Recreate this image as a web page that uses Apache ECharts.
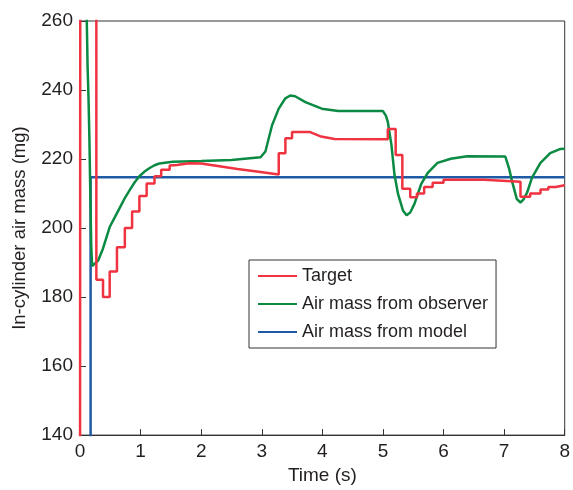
<!DOCTYPE html>
<html>
<head>
<meta charset="utf-8">
<script src="https://cdn.jsdelivr.net/npm/echarts@6/dist/echarts.min.js"></script>
<style>
  html, body { margin: 0; padding: 0; background: #fff; }
  #chart { width: 573px; height: 490px; }
</style>
</head>
<body>
<div id="chart"></div>
<script>
// target (stepped)
const targetT = [0, 0.005, 0.27, 0.27, 0.38, 0.38, 0.49, 0.49, 0.61, 0.61, 0.74, 0.74, 0.86, 0.86, 0.98, 0.98, 1.10, 1.10, 1.23, 1.23, 1.34, 1.34, 1.48, 1.48, 1.6, 1.8, 2.0, 2.3, 2.6, 2.95, 3.28, 3.28, 3.39, 3.39, 3.50, 3.50, 3.8, 3.98, 4.2, 5.08, 5.08, 5.21, 5.21, 5.32, 5.32, 5.45, 5.45, 5.56, 5.56, 5.68, 5.68, 5.82, 5.82, 6.0, 6.0, 6.67, 7.27, 7.27, 7.43, 7.43, 7.6, 7.6, 7.73, 7.73, 7.85, 7.85, 8];
const targetV = [100, 300, 300, 185, 185, 180, 180, 187.4, 187.4, 194.4, 194.4, 200, 200, 204.8, 204.8, 209.3, 209.3, 212.9, 212.9, 215, 215, 216.9, 216.9, 218.1, 218.3, 218.8, 218.7, 217.9, 217.1, 216.3, 215.5, 221.7, 221.7, 226, 226, 227.8, 227.8, 226.5, 225.8, 225.7, 228.7, 228.7, 221.2, 221.2, 211.4, 211.4, 208.9, 208.9, 210, 210, 211.9, 211.9, 213.1, 213.1, 214, 214, 213.4, 209.1, 209.1, 210, 210, 211.2, 211.2, 211.9, 211.9, 212.4, 212.4];

// air mass from observer
const observerT = [0.1, 0.11, 0.125, 0.14, 0.155, 0.17, 0.185, 0.2, 0.3, 0.38, 0.49, 0.58, 0.66, 0.74, 0.82, 0.9, 0.98, 1.06, 1.15, 1.23, 1.31, 1.53, 2.0, 2.5, 2.98, 3.06, 3.17, 3.28, 3.39, 3.47, 3.55, 3.72, 3.99, 4.26, 5.0, 5.05, 5.08, 5.14, 5.19, 5.25, 5.33, 5.39, 5.45, 5.52, 5.63, 5.74, 5.9, 6.12, 6.39, 7.02, 7.08, 7.13, 7.21, 7.27, 7.32, 7.38, 7.46, 7.6, 7.76, 7.92, 8];
const observerV = [300, 262, 247, 238, 226, 210, 195, 189, 190.6, 194.1, 200.3, 203.3, 206, 208.7, 211, 213.2, 215, 216.3, 217.4, 218.2, 218.7, 219.2, 219.4, 219.7, 220.5, 222.2, 229.8, 234.6, 237.6, 238.4, 238.2, 236.5, 234.6, 233.9, 233.9, 232.5, 230.8, 224.1, 215.5, 209.8, 205.1, 203.7, 204.5, 207, 212.7, 216, 218.9, 220.1, 220.8, 220.7, 217.4, 213.6, 208.4, 207.4, 208.3, 210.3, 214.6, 218.9, 221.7, 222.9, 223];

// air mass from model
const modelT = [0.175, 0.175, 8];
const modelV = [100, 214.7, 214.7];

const seriesNames = ['Target', 'Air mass from observer', 'Air mass from model'];
const xTicks = { min: 0, max: 8, step: 1 };
const yTicks = { min: 140, max: 260, step: 20 };

const zip = (t, v) => t.map((x, i) => [x, v[i]]);
const font = 'Liberation Sans, Arial, Helvetica, sans-serif';
const ink = '#231f20';

const chart = echarts.init(document.getElementById('chart'), null, { renderer: 'canvas' });
chart.setOption({
  animation: false,
  textStyle: { fontFamily: font, color: ink },
  grid: {
    left: 80, right: 5, top: 21, bottom: 49,
    show: true, borderColor: '#333', borderWidth: 1,
  },
  legend: {
    orient: 'vertical',
    left: 249, top: 260,
    data: seriesNames,
    itemWidth: 39, itemHeight: 14, itemGap: 10,
    padding: [7, 8, 7, 8],
    borderColor: '#333', borderWidth: 1,
    itemStyle: { opacity: 0 },
    textStyle: { fontFamily: font, fontSize: 18, color: ink },
  },
  xAxis: {
    type: 'value',
    min: xTicks.min, max: xTicks.max, interval: xTicks.step,
    name: 'Time (s)', nameLocation: 'middle', nameGap: 28,
    nameTextStyle: { fontSize: 19, color: ink },
    axisLine: { lineStyle: { color: '#333' } },
    axisTick: { inside: true, length: 6, lineStyle: { color: '#333' } },
    axisLabel: { fontSize: 19, color: ink, margin: 7 },
    splitLine: { show: false },
  },
  yAxis: {
    type: 'value',
    min: yTicks.min, max: yTicks.max, interval: yTicks.step,
    name: 'In-cylinder air mass (mg)', nameLocation: 'middle', nameGap: 51,
    nameTextStyle: { fontSize: 18.5, color: ink },
    axisLine: { show: true, lineStyle: { color: '#333' } },
    axisTick: { show: true, inside: true, length: 6, lineStyle: { color: '#333' } },
    axisLabel: { fontSize: 19, color: ink, margin: 7 },
    splitLine: { show: false },
  },
  series: [
    {
      name: seriesNames[0], type: 'line', symbol: 'none',
      data: zip(targetT, targetV),
      lineStyle: { color: '#ef3340', width: 2.5 }, itemStyle: { color: '#ef3340' },
      z: 3,
    },
    {
      name: seriesNames[1], type: 'line', symbol: 'none',
      data: zip(observerT, observerV),
      lineStyle: { color: '#0b8a43', width: 2.5 }, itemStyle: { color: '#0b8a43' },
      z: 2,
    },
    {
      name: seriesNames[2], type: 'line', symbol: 'none',
      data: zip(modelT, modelV),
      lineStyle: { color: '#1f5aa6', width: 2.5 }, itemStyle: { color: '#1f5aa6' },
      z: 1,
    },
  ],
});
</script>
</body>
</html>
